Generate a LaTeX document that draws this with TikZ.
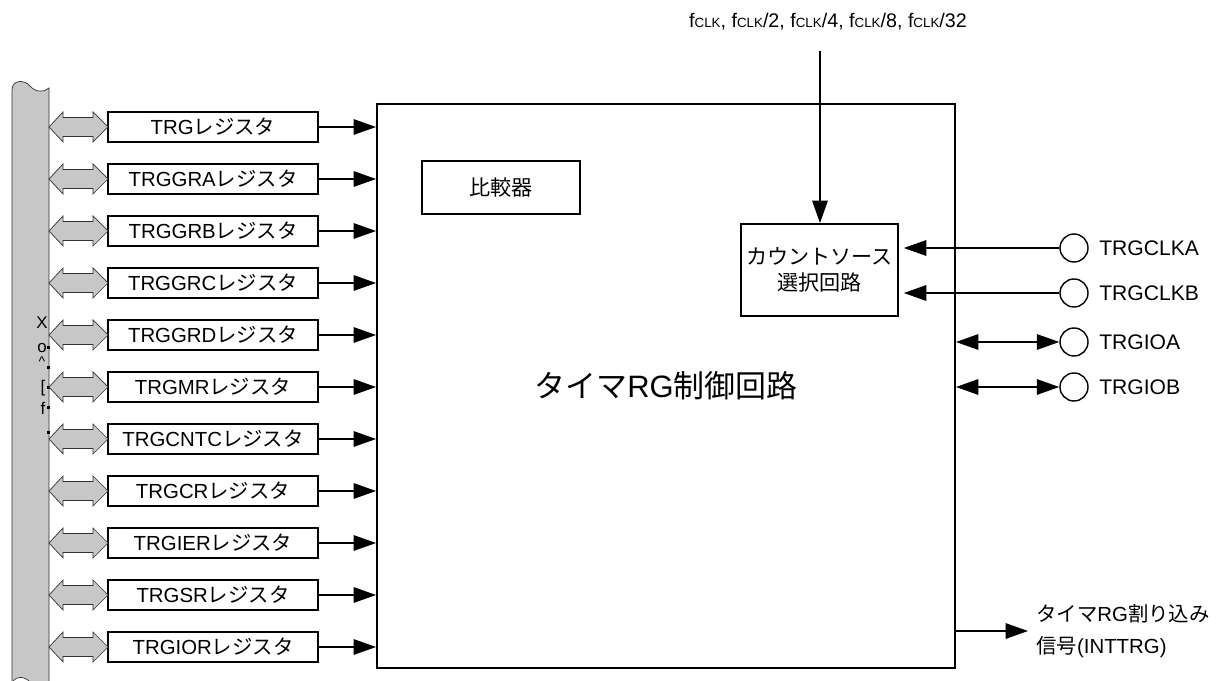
\documentclass[tikz,border=0pt]{standalone}
\usepackage{fontspec}
\setmainfont{Liberation Sans}
\newfontfamily\jpfont{Noto Sans CJK JP}
\newcommand\jp[1]{{\jpfont #1}}
\newcommand\regname[1]{#1\jp{レジスタ}}
\newcommand\fclk{f{\fontsize{9.5}{9.5}\selectfont CLK}}
\usetikzlibrary{arrows.meta}

\begin{document}
\begin{tikzpicture}[x=0.025cm,y=-0.025cm,
        regbox/.style={draw,line width=1.2pt,minimum width=5.25cm,minimum height=0.75cm,inner sep=0pt,font=\fontsize{14.5}{16}\selectfont},
        blockbox/.style={draw,line width=1.2pt,inner sep=0pt,align=center,font=\fontsize{15}{19}\selectfont},
        pinnode/.style={draw,circle,line width=1pt,minimum size=0.7cm,inner sep=0pt},
        txt/.style={inner sep=0pt,font=\fontsize{15}{17}\selectfont},
        sig/.style={line width=1.2pt,-{Triangle[length=16pt,width=11pt]}},
        sigboth/.style={line width=1.2pt,{Triangle[length=16pt,width=11pt]}-{Triangle[length=16pt,width=11pt]}},
        busfill/.style={fill=black!22,draw=black!80,line width=0.5pt}]
                \path[use as bounding box] (0,0) rectangle (1218,681);
                \clip (0,0) rectangle (1218,681);
                \filldraw[busfill] (12,686) -- (12,90) .. controls (12,80) and (24,79) .. (30,86) .. controls (35,92) and (44,93) .. (49,88) -- (49,684) .. controls (44,689) and (35,688) .. (30,682) .. controls (24,675) and (12,676) .. cycle;
                \node[txt,font=\fontsize{12}{12}\selectfont] (gx) at (42,323) {X};
                \node[txt,font=\fontsize{12}{12}\selectfont] (go) at (42,348) {o};
                \node[txt,font=\fontsize{10}{10}\selectfont] (gc) at (42,362) {\textasciicircum};
                \node[txt,font=\fontsize{12}{12}\selectfont] (gb) at (43,388) {[};
                \node[txt,font=\fontsize{12}{12}\selectfont] (gf) at (43,408) {f};
                \foreach \dy in {348,368,388,408,433}
                    \fill (47,\dy-1.5) rectangle +(3,3);
                \node[draw,line width=1.2pt,minimum width=14.45cm,minimum height=14.1cm,inner sep=0pt,font=\fontsize{22}{24}\selectfont] (ctrl) at (666,386) {\jp{タイマ}RG\jp{制御回路}};
                \node[blockbox,minimum width=3.95cm,minimum height=1.325cm] (cmp) at (501,187.5) {\jp{比較器}};
                \node[blockbox,minimum width=3.925cm,minimum height=2.3cm] (cnt) at (819.5,270) {\jp{カウントソース}\\\jp{選択回路}};
                \foreach \name [count=\i] in {TRG,TRGGRA,TRGGRB,TRGGRC,TRGGRD,TRGMR,TRGCNTC,TRGCR,TRGIER,TRGSR,TRGIOR} {
                    \pgfmathsetmacro\yy{75+52*\i}
                    \node[regbox] (r\i) at (213,\yy) {\regname{\name}};
                    \filldraw[busfill] (49,\yy) -- (63,\yy-15) -- (63,\yy-9.5) -- (93,\yy-9.5) -- (93,\yy-15) -- (108,\yy) -- (93,\yy+15) -- (93,\yy+9.5) -- (63,\yy+9.5) -- (63,\yy+15) -- cycle;
                    \draw[sig] (r\i.east) -- (r\i.east -| ctrl.west);
                }
                \node[txt,font=\fontsize{14}{16}\selectfont] (clklbl) at (828,22) {\fclk, \fclk/2, \fclk/4, \fclk/8, \fclk/32};
                \coordinate (clkin) at (820,51);
                \draw[sig] (clkin) -- (clkin |- cnt.north);
                \foreach \pname/\py/\pid in {TRGCLKA/248/ca,TRGCLKB/293/cb,TRGIOA/342/ia,TRGIOB/387/ib} {
                    \node[pinnode] (\pid) at (1074,\py) {};
                    \node[txt,anchor=west] (\pid l) at (1099,\py) {\pname};
                }
                \draw[sig,shorten >=3.5pt] (ca.west) -- (ca.west -| cnt.east);
                \draw[sig,shorten >=3.5pt] (cb.west) -- (cb.west -| cnt.east);
                \draw[sigboth] (ia.west -| ctrl.east) -- (ia.west);
                \draw[sigboth] (ib.west -| ctrl.east) -- (ib.west);
                \coordinate (intout) at (1028,631);
                \draw[sig] (intout -| ctrl.east) -- (intout);
                \node[txt,anchor=west,align=left,font=\fontsize{14.5}{23}\selectfont] (intlbl) at (1036,631) {\jp{タイマ}RG\jp{割り込み}\\\jp{信号}(INTTRG)};
            \end{tikzpicture}
\end{document}
